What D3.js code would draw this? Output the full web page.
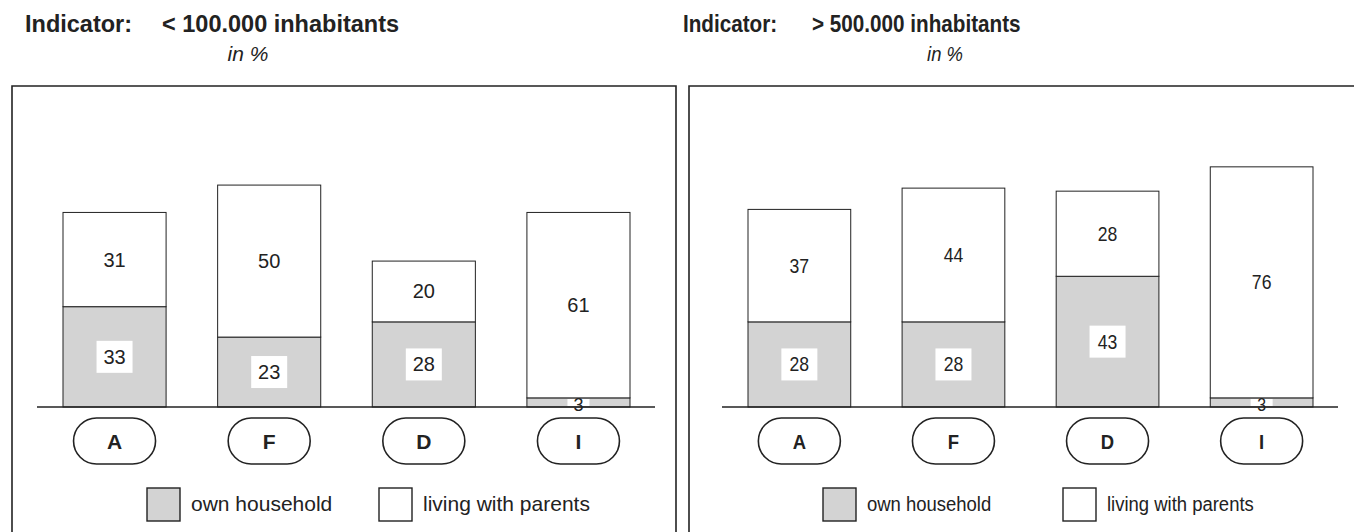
<!DOCTYPE html>
<html>
<head>
<meta charset="utf-8">
<script src="https://cdn.jsdelivr.net/npm/d3@7"></script>
<style>
  body { margin: 0; background: #fff; }
  svg { display: block; }
</style>
</head>
<body>
<div id="vis"></div>
<script>
// data
const categories = ["A", "F", "D", "I"];
const seriesNames = ["own household", "living with parents"];
const ownSmall = [33, 23, 28, 3];
const parentsSmall = [31, 50, 20, 61];
const ownLarge = [28, 28, 43, 3];
const parentsLarge = [37, 44, 28, 76];
const panelTitles = ["< 100.000 inhabitants", "> 500.000 inhabitants"];
const unitLabel = "in %";

const W = 1354, H = 532;
const grey = "#d3d3d3", ink = "#222";
const font = "'Liberation Sans', Arial, Helvetica, sans-serif";

const svg = d3.select("#vis").append("svg")
    .attr("width", W)
    .attr("height", H)
    .style("font-family", font);

const y = d3.scaleLinear().domain([0, 100]).range([407, 103]);

// second panel was typeset in a narrower face, so its text is squeezed
const panels = [
    { own: ownSmall, parents: parentsSmall, title: panelTitles[0], box: [12, 676],
      bars: [63, 630], axis: [37, 655], titleX: 25, gap: 137, unitX: 248,
      legendX: 147, legendStep: 232, sx: 1 },
    { own: ownLarge, parents: parentsLarge, title: panelTitles[1], box: [689, 1362],
      bars: [748, 1313], axis: [722, 1338], titleX: 683, gap: 129, unitX: 945,
      legendX: 823, legendStep: 240, sx: 0.88 }
];

const at = (px, py, sx) => `translate(${px},${py}) scale(${sx},1)`;

panels.forEach(p => {
    const g = svg.append("g").attr("fill", ink);

    // heading
    g.append("text").attr("transform", at(p.titleX, 32, p.sx))
        .style("font-size", "23.5px").style("font-weight", "bold")
        .text("Indicator:");
    g.append("text").attr("transform", at(p.titleX + p.gap, 32, p.sx))
        .style("font-size", "23.5px").style("font-weight", "bold")
        .text(p.title);
    g.append("text").attr("transform", at(p.unitX, 61, p.sx))
        .attr("text-anchor", "middle")
        .style("font-size", "21px").style("font-style", "italic")
        .text(unitLabel);

    // frame (bottom is off the picture)
    g.append("path")
        .attr("d", `M${p.box[0]},${H + 5}V86H${p.box[1]}V${H + 5}`)
        .attr("fill", "none").attr("stroke", ink).attr("stroke-width", 1.6);

    const x = d3.scaleBand().domain(categories).range(p.bars)
        .paddingInner(1 / 3).paddingOuter(0);
    const cx = c => x(c) + x.bandwidth() / 2;

    const rows = categories.map((c, i) => ({ cat: c, own: p.own[i], parents: p.parents[i] }));
    const stack = d3.stack().keys(["own", "parents"])(rows);

    stack.forEach((layer, li) => {
        g.append("g").selectAll("rect").data(layer).join("rect")
            .attr("x", d => x(d.data.cat))
            .attr("y", d => y(d[1]))
            .attr("width", x.bandwidth())
            .attr("height", d => y(d[0]) - y(d[1]))
            .attr("fill", li === 0 ? grey : "#fff")
            .attr("stroke", ink).attr("stroke-width", 1);
    });

    // axis line
    g.append("line")
        .attr("x1", p.axis[0]).attr("x2", p.axis[1])
        .attr("y1", y(0)).attr("y2", y(0))
        .attr("stroke", ink).attr("stroke-width", 1.6);

    // value labels: living with parents
    g.append("g").selectAll("text").data(stack[1]).join("text")
        .attr("transform", d => at(cx(d.data.cat), (y(d[0]) + y(d[1])) / 2 + 7, p.sx))
        .attr("text-anchor", "middle")
        .style("font-size", "20px")
        .text(d => d.data.parents);

    // value labels: own household, on a white patch
    const small = d => d.data.own < 6;
    const ownLab = g.append("g").selectAll("g").data(stack[0]).join("g")
        .attr("transform", d => `translate(${cx(d.data.cat)},${small(d) ? y(0) - 2 : (y(d[0]) + y(d[1])) / 2})`);
    ownLab.append("rect")
        .attr("x", d => small(d) ? -11 : -18)
        .attr("y", d => small(d) ? -6 : -16)
        .attr("width", d => small(d) ? 22 : 36)
        .attr("height", d => small(d) ? 7 : 32)
        .attr("fill", "#fff");
    ownLab.append("text")
        .attr("transform", d => at(0, small(d) ? 6 : 7, p.sx))
        .attr("text-anchor", "middle")
        .style("font-size", d => small(d) ? "18px" : "20px")
        .text(d => d.data.own);

    // category pills
    const pill = g.append("g").selectAll("g").data(categories).join("g")
        .attr("transform", d => `translate(${cx(d)},441)`);
    pill.append("rect")
        .attr("x", -41).attr("y", -23).attr("width", 82).attr("height", 46)
        .attr("rx", 23).attr("ry", 23)
        .attr("fill", "#fff").attr("stroke", ink).attr("stroke-width", 1.6);
    pill.append("text")
        .attr("transform", at(0, 8, p.sx))
        .attr("text-anchor", "middle")
        .style("font-size", "21px").style("font-weight", "bold")
        .text(d => d);

    // legend
    const leg = g.append("g").selectAll("g").data(seriesNames).join("g")
        .attr("transform", (d, i) => `translate(${p.legendX + i * p.legendStep},488)`);
    leg.append("rect")
        .attr("width", 33).attr("height", 33)
        .attr("fill", (d, i) => i === 0 ? grey : "#fff")
        .attr("stroke", ink).attr("stroke-width", 1.4);
    leg.append("text")
        .attr("transform", at(44, 23, p.sx))
        .style("font-size", "21px")
        .text(d => d);
});
</script>
</body>
</html>
